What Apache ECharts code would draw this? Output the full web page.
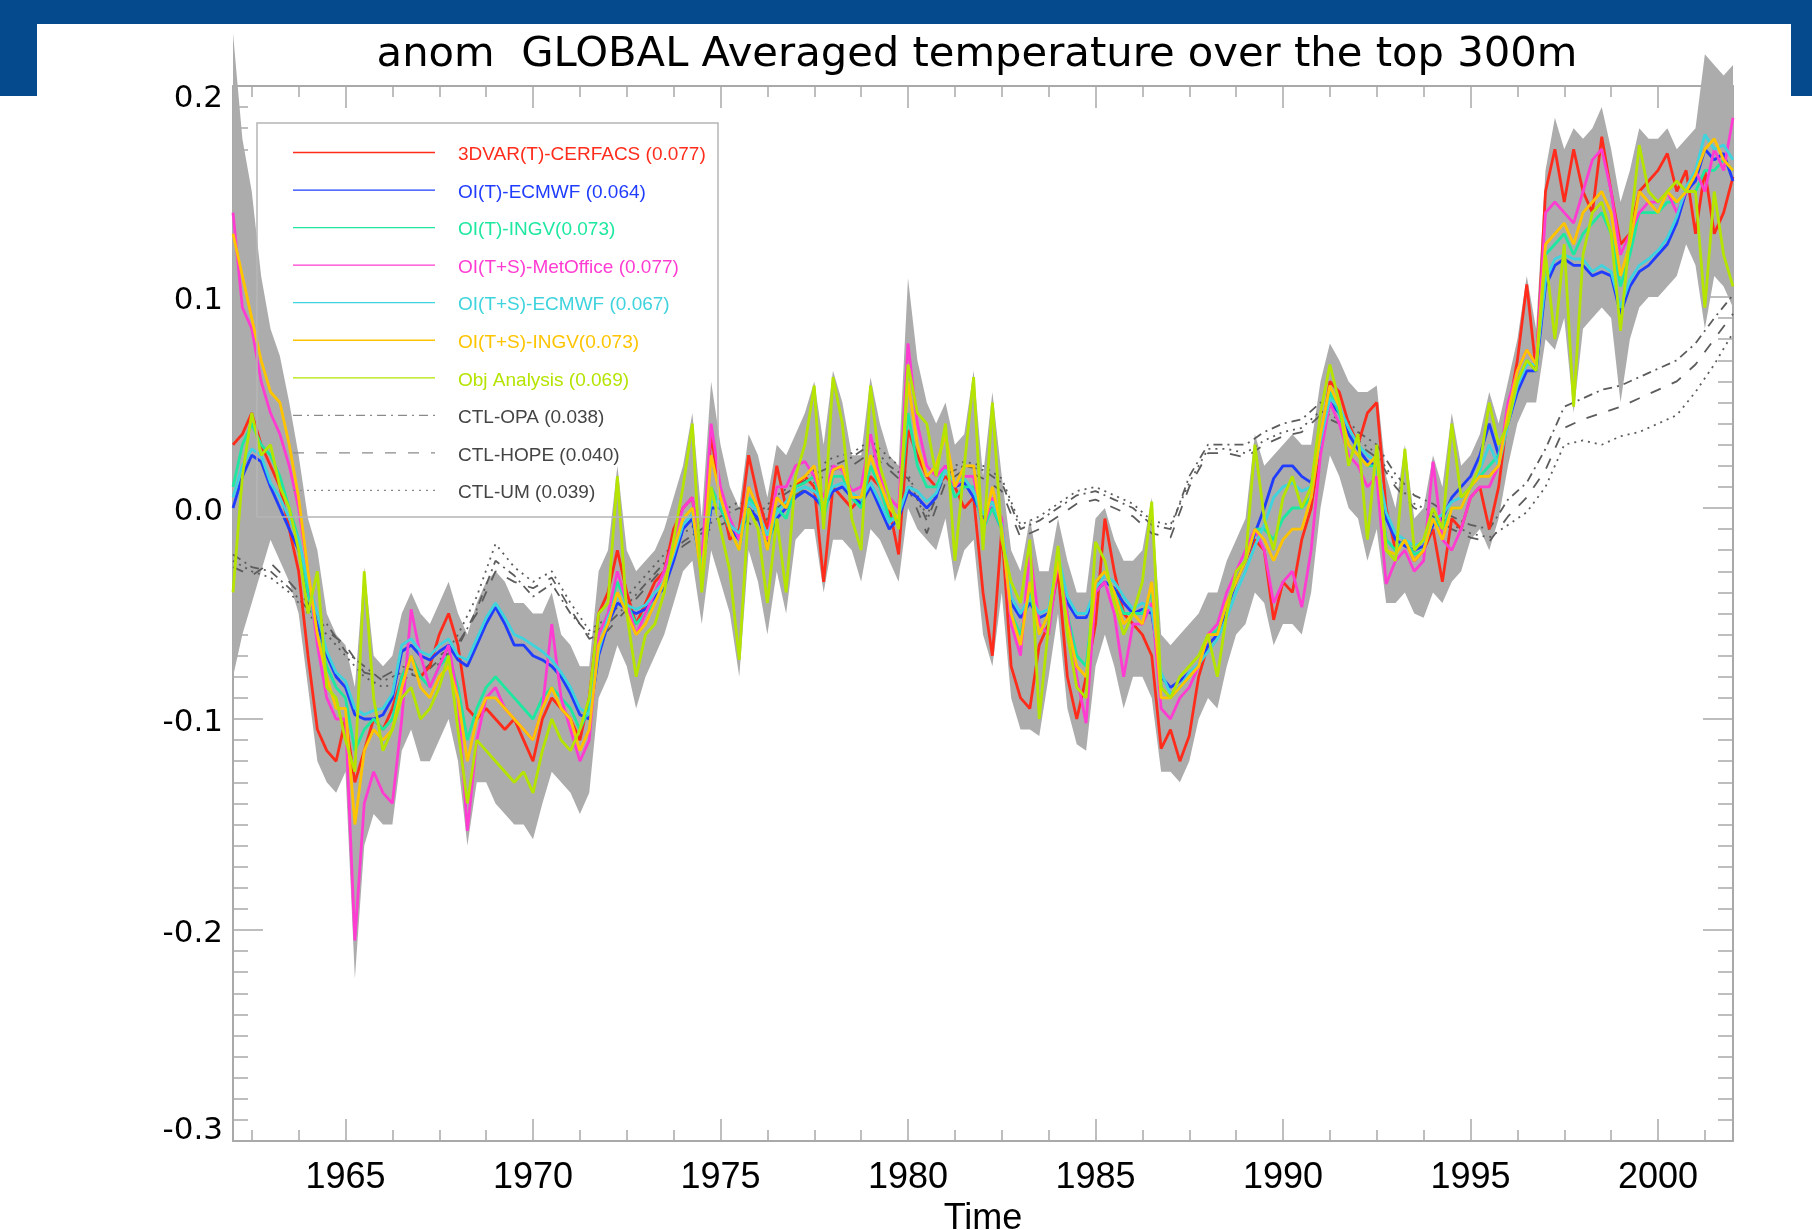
<!DOCTYPE html>
<html><head><meta charset="utf-8">
<script src="https://cdn.jsdelivr.net/npm/echarts@6/dist/echarts.min.js"></script>
<style>html,body{margin:0;padding:0;background:#fff}#c{width:1812px;height:1230px}</style>
</head><body><div id="c"></div>
<script>
// quarterly samples starting 1962.00
const START_YEAR = 1962, STEP = 0.25;
const CTL_STEP = 0.5;
const titleText = 'anom  GLOBAL Averaged temperature over the top 300m';
const xName = 'Time';
const majorYears = [1965, 1970, 1975, 1980, 1985, 1990, 1995, 2000];
const minorYears = [1962.5, 1963.75, 1966.25, 1967.5, 1968.75, 1971.25, 1972.5, 1973.75, 1976.25, 1977.5, 1978.75,
  1981.25, 1982.5, 1983.75, 1986.25, 1987.5, 1988.75, 1991.25, 1992.5, 1993.75, 1996.25, 1997.5, 1998.75, 2001.25];
const seriesNames = ['3DVAR(T)-CERFACS (0.077)', 'OI(T)-ECMWF (0.064)', 'OI(T)-INGV(0.073)', 'OI(T+S)-MetOffice (0.077)',
  'OI(T+S)-ECMWF (0.067)', 'OI(T+S)-INGV(0.073)', 'Obj Analysis (0.069)', 'CTL-OPA (0.038)', 'CTL-HOPE (0.040)', 'CTL-UM (0.039)'];

const cerfacs = [
.030,.035,.045,.030, .020,.010,-.010,-.030, -.070,-.105,-.115,-.120, -.100,-.130,-.115,-.100,
-.105,-.095,-.080,-.070, -.080,-.075,-.060,-.050, -.065,-.095,-.100,-.095, -.100,-.105,-.100,-.110,
-.120,-.100,-.090,-.095, -.100,-.110,-.090,-.050, -.040,-.020,-.040,-.055, -.045,-.035,-.030,-.010,
.000,.005,-.030,.035, .005,-.015,-.010,.025, .005,-.010,.020,.000, .010,.015,.010,-.035,
.010,.005,.000,.005, .015,.010,.000,-.022, .037,.025,.015,.010, .015,.010,.000,.005,
-.040,-.070,-.010,-.075, -.090,-.095,-.065,-.055, -.030,-.080,-.100,-.080, -.055,-.005,-.030,-.050,
-.055,-.060,-.070,-.114, -.105,-.120,-.108,-.080, -.065,-.060,-.045,-.035, -.025,-.015,-.020,-.053,
-.035,-.040,-.015,.000, .030,.060,.055,.040, .030,.045,.050,.000, -.020,-.015,-.025,-.020,
-.010,-.035,-.005,-.010, .005,.010,-.010,.010, .045,.070,.106,.065, .150,.170,.145,.170,
.150,.140,.176,.150, .125,.130,.150,.155, .160,.168,.150,.160, .130,.160,.130,.140, .157];
const oiTEcmwf = [
.000,.015,.025,.022, .010,.000,-.010,-.020, -.040,-.055,-.070,-.080, -.085,-.098,-.100,-.100,
-.098,-.090,-.068,-.065, -.070,-.072,-.068,-.065, -.072,-.075,-.065,-.055, -.047,-.055,-.065,-.065,
-.070,-.072,-.075,-.080, -.088,-.098,-.100,-.070, -.055,-.045,-.048,-.050, -.048,-.042,-.038,-.025,
-.010,-.005,-.030,.000, .000,-.010,-.015,.000, -.005,-.016,-.005,.000, .005,.008,.005,.000,
.008,.010,.005,.002, .010,.000,-.010,-.005, .008,.005,.000,.005, .020,.010,.012,.005,
-.005,.000,-.010,-.045, -.052,-.045,-.052,-.050, -.025,-.045,-.052,-.052, -.040,-.035,-.038,-.045,
-.050,-.048,-.050,-.080, -.085,-.082,-.078,-.075, -.065,-.060,-.048,-.035, -.025,-.012,.000,.014,
.020,.020,.015,.012, .030,.050,.045,.035, .028,.022,.020,-.005, -.015,-.018,-.020,-.018,
-.008,-.005,.005,.010, .015,.025,.040,.025, .040,.055,.065,.065, .105,.115,.118,.115,
.115,.110,.112,.110, .092,.105,.112,.115, .120,.125,.135,.150, .155,.170,.165,.168, .155];
const oiTIngv = [
.010,.030,.040,.030, .025,.015,.000,-.015, -.040,-.060,-.075,-.085, -.090,-.115,-.105,-.100,
-.105,-.100,-.080,-.070, -.080,-.085,-.075,-.070, -.085,-.110,-.095,-.085, -.080,-.085,-.090,-.095,
-.100,-.090,-.085,-.090, -.095,-.105,-.095,-.060, -.050,-.035,-.045,-.055, -.050,-.045,-.035,-.020,
-.005,.000,-.035,.010, .000,-.010,-.020,.005, .000,-.020,.000,-.005, .010,.012,.015,-.005,
.015,.015,.005,.000, .020,.010,-.005,-.005, .045,.020,.010,.010, .020,.005,.010,.010,
-.010,.000,-.010,-.050, -.060,-.040,-.060,-.050, -.025,-.050,-.070,-.075, -.035,-.030,-.040,-.050,
-.050,-.050,-.040,-.085, -.090,-.085,-.080,-.075, -.060,-.058,-.045,-.035, -.025,-.010,-.010,-.015,
-.005,.000,.000,.005, .035,.055,.045,.030, .025,.020,.020,-.015, -.020,-.015,-.022,-.020,
-.005,-.010,.000,.000, .010,.015,.020,.025, .045,.060,.070,.065, .120,.125,.130,.120,
.130,.135,.140,.130, .105,.120,.140,.140, .140,.145,.145,.150, .150,.160,.160,.165, .160];
const metOffice = [
.140,.095,.085,.060, .045,.035,.020,.000, -.030,-.065,-.090,-.100, -.100,-.205,-.140,-.125,
-.135,-.140,-.100,-.048, -.070,-.085,-.075,-.065, -.090,-.153,-.110,-.090, -.085,-.095,-.100,-.105,
-.110,-.095,-.055,-.090, -.105,-.120,-.110,-.060, -.050,-.030,-.045,-.060, -.050,-.040,-.030,-.015,
.000,.005,-.025,.040, .010,-.005,-.015,.010, .000,-.015,.010,.010, .020,.022,.015,.005,
.020,.018,.008,.010, .035,.015,.005,.000, .078,.040,.020,.015, .020,.010,.015,.015,
-.010,.005,-.005,-.055, -.070,-.020,-.055,-.060, -.025,-.050,-.080,-.102, -.040,-.035,-.050,-.080,
-.055,-.055,-.045,-.095, -.100,-.090,-.085,-.075, -.060,-.055,-.040,-.030, -.020,-.010,-.020,-.045,
-.035,-.030,-.047,-.020, .025,.050,.040,.025, .020,.010,.015,-.036, -.025,-.020,-.030,-.025,
.022,-.015,-.020,-.010, .005,.010,.010,.020, .050,.065,.075,.068, .140,.145,.140,.135,
.150,.165,.170,.150, .120,.130,.140,.145, .145,.150,.140,.150, .160,.150,.170,.160, .185];
const oiTSEcmwf = [
.005,.020,.028,.025, .012,.005,-.005,-.015, -.035,-.050,-.068,-.078, -.082,-.095,-.098,-.096,
-.095,-.088,-.065,-.062, -.068,-.070,-.065,-.062, -.070,-.072,-.062,-.052, -.045,-.052,-.060,-.062,
-.065,-.068,-.072,-.078, -.085,-.095,-.098,-.068, -.052,-.042,-.046,-.048, -.046,-.040,-.035,-.022,
-.008,-.003,-.028,.003, .003,-.008,-.012,.003, -.002,-.013,-.002,.003, .008,.010,.008,.003,
.010,.012,.007,.004, .012,.003,-.007,-.003, .010,.008,.003,.007, .018,.012,.014,.008,
-.003,.003,-.008,-.042, -.050,-.042,-.050,-.048, -.022,-.042,-.050,-.050, -.038,-.032,-.035,-.042,
-.048,-.045,-.048,-.078, -.088,-.085,-.078,-.074, -.068,-.062,-.052,-.040, -.030,-.018,-.008,.005,
.010,.012,.008,.010, .032,.052,.048,.038, .030,.025,.022,-.002, -.012,-.015,-.018,-.016,
-.006,-.003,.003,.005, .010,.018,.030,.020, .040,.058,.068,.068, .108,.118,.120,.118,
.118,.112,.115,.112, .095,.108,.115,.118, .122,.128,.138,.152, .160,.177,.170,.172, .165];
const oiTSIngv = [
.130,.110,.090,.070, .055,.050,.030,.005, -.030,-.060,-.080,-.095, -.095,-.150,-.115,-.105,
-.110,-.105,-.085,-.070, -.085,-.090,-.080,-.075, -.090,-.120,-.100,-.090, -.090,-.095,-.100,-.105,
-.110,-.095,-.085,-.095, -.100,-.115,-.105,-.065, -.055,-.040,-.050,-.060, -.055,-.045,-.035,-.020,
-.005,.000,-.035,.025, .005,-.010,-.020,.010, .000,-.020,.005,.000, .012,.015,.020,.000,
.018,.020,.005,.005, .025,.012,.000,-.005, .060,.030,.015,.020, .035,.010,.020,.020,
-.010,.010,-.010,-.050, -.065,-.035,-.060,-.050, -.025,-.055,-.075,-.080, -.035,-.030,-.040,-.055,
-.050,-.055,-.035,-.090, -.090,-.085,-.080,-.075, -.060,-.060,-.045,-.035, -.025,-.010,-.015,-.025,
-.015,-.010,-.010,.005, .035,.058,.048,.030, .025,.020,.025,-.020, -.022,-.015,-.025,-.020,
-.005,-.015,.000,.000, .010,.015,.015,.020, .045,.065,.075,.068, .125,.130,.135,.125,
.140,.145,.150,.140, .110,.125,.150,.145, .140,.150,.145,.150, .158,.170,.175,.165, .160];
const objAnalysis = [
-.040,.015,.045,.025, .030,.010,.000,-.020, -.050,-.030,-.085,-.090, -.110,-.125,-.030,-.090,
-.115,-.105,-.090,-.085, -.100,-.095,-.085,-.070, -.105,-.140,-.110,-.115, -.120,-.125,-.130,-.125,
-.135,-.115,-.100,-.110, -.115,-.105,-.090,-.050, -.045,.015,-.050,-.080, -.060,-.055,-.040,-.015,
.010,.040,-.040,.010, -.010,-.030,-.072,.000, -.010,-.045,-.005,-.040, .015,.030,.058,-.010,
.062,.040,-.005,-.020, .058,.020,.005,-.010, .068,.045,.040,.015, .040,-.025,.020,.062,
-.020,.050,-.015,-.035, -.045,-.015,-.100,-.055, -.018,-.060,-.085,-.090, -.016,-.025,-.045,-.060,
-.050,-.035,.003,-.085, -.090,-.080,-.075,-.070, -.060,-.080,-.050,-.030, -.025,.030,-.005,-.020,
.005,.015,.000,.010, .045,.068,.050,.020, .035,-.015,.030,-.020, -.025,.028,-.020,-.015,
.000,-.010,.040,.005, .010,.020,.050,.030, .040,.060,.070,.065, .120,.080,.125,.048,
.120,.140,.145,.130, .084,.130,.172,.150, .145,.150,.155,.150, .150,.095,.150,.120, .105];
const spreadUpper = [
.225,.175,.150,.110, .085,.072,.050,.025, -.005,-.020,-.050,-.060, -.065,-.085,-.028,-.070,
-.075,-.070,-.050,-.040, -.050,-.055,-.045,-.035, -.050,-.060,-.045,-.035, -.030,-.035,-.045,-.045,
-.050,-.050,-.040,-.060, -.065,-.075,-.075,-.030, -.020,.020,-.020,-.030, -.025,-.020,-.010,.005,
.020,.045,-.005,.060, .030,.010,.000,.035, .025,.005,.030,.025, .035,.045,.060,.030,
.065,.050,.025,.025, .062,.040,.025,.020, .109,.070,.050,.040, .050,.030,.035,.065,
.015,.055,.015,-.020, -.030,-.005,-.030,-.030, -.005,-.025,-.040,-.040, -.005,.000,-.015,-.025,
-.025,-.020,.005,-.060, -.065,-.060,-.055,-.050, -.040,-.040,-.025,-.015, -.005,.035,.020,.025,
.030,.035,.030,.030, .060,.078,.070,.060, .055,.055,.058,.015, .000,.030,-.005,.000,
.025,.010,.045,.020, .025,.035,.055,.040, .060,.080,.110,.085, .160,.185,.170,.180,
.175,.180,.190,.170, .145,.160,.180,.175, .175,.180,.170,.175, .180,.215,.210,.205, .210];
const spreadLower = [
-.080,-.060,-.045,-.030, -.015,-.025,-.035,-.050, -.085,-.120,-.130,-.135, -.125,-.223,-.160,-.145,
-.150,-.150,-.115,-.105, -.120,-.120,-.110,-.100, -.120,-.160,-.130,-.130, -.140,-.145,-.150,-.150,
-.157,-.140,-.125,-.130, -.135,-.145,-.135,-.090, -.080,-.065,-.075,-.095, -.080,-.070,-.060,-.045,
-.030,-.025,-.055,-.020, -.035,-.050,-.080,-.020, -.035,-.060,-.030,-.050, -.015,-.010,-.010,-.040,
-.015,-.015,-.020,-.035, -.010,-.015,-.025,-.035, .000,-.010,-.015,-.020, -.005,-.035,-.020,-.015,
-.060,-.075,-.040,-.090, -.105,-.105,-.108,-.080, -.050,-.095,-.112,-.115, -.075,-.060,-.075,-.095,
-.080,-.080,-.090,-.125, -.125,-.130,-.120,-.100, -.090,-.095,-.075,-.060, -.055,-.040,-.045,-.065,
-.055,-.055,-.060,-.040, .000,.025,.015,.000, -.005,-.025,-.010,-.045, -.045,-.040,-.050,-.052,
-.040,-.045,-.035,-.030, -.015,-.010,-.020,-.005, .020,.040,.050,.050, .080,.075,.090,.045,
.085,.090,.095,.090, .050,.080,.095,.100, .100,.105,.110,.125, .115,.085,.110,.105, .095];
// control runs, half-yearly samples starting 1962.0
const ctlOpa = [
-.022,-.028,-.030,-.038,-.048,-.055,-.068,-.075,-.082,-.078,-.080,-.072,-.066,-.048,-.025,-.032,
-.042,-.036,-.050,-.060,-.055,-.046,-.036,-.026,-.016,-.010,-.004,.000,-.006,.004,.010,.016,
.020,.024,.030,.020,.014,-.006,.016,.020,.018,.012,-.010,-.006,.000,.006,.008,.004,
.000,-.008,-.010,.015,.030,.030,.030,.036,.040,.042,.050,.046,.036,.030,.016,.006,
.002,-.004,-.008,-.010,.004,.012,.028,.048,.052,.056,.058,.062,.066,.070,.078,.090,.101];
const ctlHope = [
-.028,-.032,-.026,-.035,-.045,-.058,-.065,-.078,-.080,-.075,-.078,-.070,-.064,-.050,-.030,-.035,
-.038,-.033,-.048,-.062,-.058,-.048,-.038,-.028,-.018,-.012,-.008,-.004,-.010,.000,.006,.012,
.018,.020,.026,.018,.010,-.012,.012,.018,.014,.008,-.014,-.010,-.004,.002,.004,.000,
-.004,-.012,-.014,.010,.026,.026,.024,.030,.034,.036,.044,.040,.030,.024,.010,.000,
-.004,-.010,-.014,-.016,-.004,.005,.018,.038,.042,.045,.048,.052,.056,.060,.068,.080,.092];
const ctlUm = [
-.025,-.030,-.033,-.040,-.050,-.060,-.070,-.080,-.085,-.082,-.076,-.074,-.060,-.042,-.017,-.028,
-.035,-.030,-.045,-.058,-.052,-.042,-.032,-.022,-.012,-.006,-.002,.003,-.003,.006,.012,.018,
.024,.026,.032,.024,.016,-.004,.018,.022,.020,.014,-.008,-.004,.002,.008,.010,.006,
.002,-.006,-.008,.012,.028,.028,.026,.032,.036,.038,.046,.042,.032,.026,.012,.002,
-.002,-.008,-.012,-.014,-.008,-.002,.010,.030,.032,.030,.034,.036,.040,.044,.055,.068,.083];

const colors = ['#ff2c1c', '#1f3cff', '#1ee8a0', '#ff3cd2', '#3fd3dd', '#ffc400', '#b4e400'];
const ctlColor = '#5c5c5c';
const ctlDash = [[9, 5, 2, 5], [11, 12], [2, 5]];

const qTimes = cerfacs.map((_, i) => START_YEAR + STEP * i);
const hTimes = ctlOpa.map((_, i) => START_YEAR + CTL_STEP * i);
const mainData = [cerfacs, oiTEcmwf, oiTIngv, metOffice, oiTSEcmwf, oiTSIngv, objAnalysis];
const ctlData = [ctlOpa, ctlHope, ctlUm];

const AX = '#a9a9a9';
const series = [];
series.push({
  type: 'custom', name: 'spread', clip: false, silent: true, z: 1,
  data: [[START_YEAR, 0]],
  renderItem(params, api) {
    const pts = [];
    for (let i = 0; i < spreadUpper.length; i++) pts.push(api.coord([qTimes[i], spreadUpper[i]]));
    for (let i = spreadLower.length - 1; i >= 0; i--) pts.push(api.coord([qTimes[i], spreadLower[i]]));
    return { type: 'polygon', shape: { points: pts }, style: { fill: '#acacac', stroke: null } };
  }
});
ctlData.forEach((vals, k) => series.push({
  type: 'line', name: seriesNames[7 + k], symbol: 'none', silent: true, z: 2,
  data: hTimes.map((t, i) => [t, vals[i]]),
  lineStyle: { color: ctlColor, width: 1.8, type: ctlDash[k] }
}));
mainData.forEach((vals, k) => series.push({
  type: 'line', name: seriesNames[k], symbol: 'none', silent: true, z: 3,
  data: qTimes.map((t, i) => [t, vals[i]]),
  lineStyle: { color: colors[k], width: 2.8 }
}));

// legend (drawn as graphic, positions in pixels)
const legendEls = [{ type: 'rect', z: 5, shape: { x: 257, y: 123, width: 461, height: 394 },
  style: { fill: null, stroke: '#b5b5b5', lineWidth: 1.5 } }];
seriesNames.forEach((nm, k) => {
  const y = 155 + 37.55 * k;
  const isCtl = k >= 7;
  legendEls.push({ type: 'line', z: 6, shape: { x1: 293, y1: y - 2.5, x2: 435, y2: y - 2.5 },
    style: { stroke: isCtl ? '#8a8a8a' : colors[k], lineWidth: 1.3, lineDash: isCtl ? ctlDash[k - 7] : null } });
  legendEls.push({ type: 'text', z: 6, x: 458, y: y,
    style: { text: nm, fill: isCtl ? '#444' : colors[k], font: '19px "Liberation Sans"', textVerticalAlign: 'middle' } });
});

const yLab = v => {
  const s = (Math.abs(v) < 1e-9 ? 0 : v).toFixed(1);
  if (Math.abs(v - 0.2) < 1e-9) return '{hi|' + s + '}';
  if (Math.abs(v + 0.3) < 1e-9) return '{lo|' + s + '}';
  return '{m|' + s + '}';
};
const yFont = { fontFamily: 'DejaVu Sans', fontSize: 31, color: '#000' };
const xFont = { fontFamily: 'Liberation Sans', fontSize: 36, color: '#000' };

const option = {
  animation: false,
  backgroundColor: '#fff',
  title: { text: titleText, left: 977, top: 34, padding: 0, textAlign: 'center',
    textStyle: { fontFamily: 'DejaVu Sans', fontSize: 41.7, fontWeight: 'normal', color: '#000' } },
  grid: { left: 233, top: 86, width: 1500, height: 1055, containLabel: false, outerBoundsMode: 'none' },
  xAxis: [
    { type: 'value', position: 'bottom', min: 1962, max: 2002, name: xName, nameLocation: 'middle', nameGap: 56,
      nameTextStyle: xFont,
      axisLine: { show: true, onZero: false, lineStyle: { color: AX, width: 2 } },
      axisTick: { show: true, inside: true, length: 22, customValues: majorYears, lineStyle: { color: AX, width: 1.5 } },
      axisLabel: Object.assign({ customValues: majorYears, margin: 19, formatter: v => String(Math.round(v)) }, xFont),
      splitLine: { show: false } },
    { type: 'value', position: 'bottom', min: 1962, max: 2002,
      axisLine: { show: false, onZero: false },
      axisTick: { show: true, inside: true, length: 11, customValues: minorYears, lineStyle: { color: AX, width: 1.5 } },
      axisLabel: { show: false }, splitLine: { show: false } },
    { type: 'value', position: 'top', min: 1962, max: 2002,
      axisLine: { show: true, onZero: false, lineStyle: { color: AX, width: 2 } },
      axisTick: { show: true, inside: true, length: 22, customValues: majorYears, lineStyle: { color: AX, width: 1.5 } },
      axisLabel: { show: false }, splitLine: { show: false } },
    { type: 'value', position: 'top', min: 1962, max: 2002,
      axisLine: { show: false, onZero: false },
      axisTick: { show: true, inside: true, length: 11, customValues: minorYears, lineStyle: { color: AX, width: 1.5 } },
      axisLabel: { show: false }, splitLine: { show: false } }
  ],
  yAxis: [
    { type: 'value', position: 'left', min: -0.3, max: 0.2, interval: 0.1,
      axisLine: { show: true, onZero: false, lineStyle: { color: AX, width: 2 } },
      axisTick: { show: true, inside: true, length: 30, lineStyle: { color: AX, width: 1.5 } },
      minorTick: { show: true, splitNumber: 10, length: 15, lineStyle: { color: AX, width: 1.5 } },
      axisLabel: Object.assign({ margin: 10, formatter: yLab,
        rich: { hi: Object.assign({ padding: [25, 0, 0, 0] }, yFont),
                lo: Object.assign({ padding: [0, 0, 20, 0] }, yFont),
                m: Object.assign({ padding: [7, 0, 0, 0] }, yFont) } }, yFont),
      splitLine: { show: false }, minorSplitLine: { show: false } },
    { type: 'value', position: 'right', min: -0.3, max: 0.2, interval: 0.1,
      axisLine: { show: true, onZero: false, lineStyle: { color: AX, width: 2 } },
      axisTick: { show: true, inside: true, length: 30, lineStyle: { color: AX, width: 1.5 } },
      minorTick: { show: true, splitNumber: 10, length: 15, lineStyle: { color: AX, width: 1.5 } },
      axisLabel: { show: false }, splitLine: { show: false }, minorSplitLine: { show: false } }
  ],
  graphic: [
    { type: 'rect', z: 100, shape: { x: 0, y: 0, width: 1812, height: 24 }, style: { fill: '#044a8c' } },
    { type: 'rect', z: 100, shape: { x: 0, y: 0, width: 37, height: 96 }, style: { fill: '#044a8c' } },
    { type: 'rect', z: 100, shape: { x: 1791, y: 0, width: 21, height: 96 }, style: { fill: '#044a8c' } }
  ].concat(legendEls),
  series: series
};
const chart = echarts.init(document.getElementById('c'), null, { renderer: 'canvas' });
chart.setOption(option);
</script></body></html>
